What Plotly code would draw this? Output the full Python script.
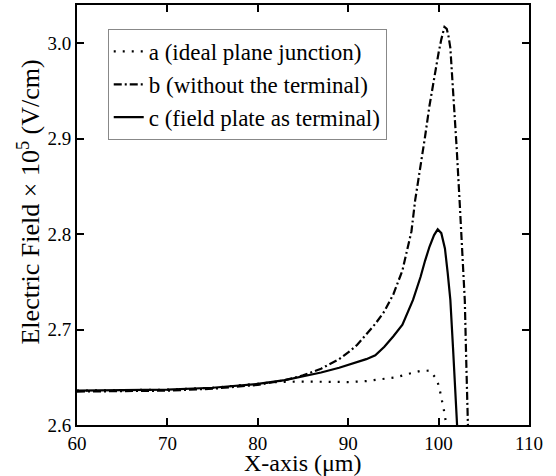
import plotly.graph_objects as go

# Curve a: ideal plane junction
xa = [60, 65, 70, 75, 80, 82, 85, 88, 90, 92, 94, 95.3, 96.6, 97.9, 99.0, 99.8, 100.1, 100.4, 100.6, 100.8, 101.0]
ya = [2.636, 2.6365, 2.637, 2.639, 2.643, 2.645, 2.6455, 2.645, 2.645, 2.646, 2.648, 2.650, 2.6534, 2.6565, 2.657, 2.648, 2.638, 2.626, 2.615, 2.6035, 2.595]

# Curve b: without the terminal
xb = [60, 65, 70, 75, 80, 83, 85, 87, 89, 90, 91, 92, 93, 94, 95, 96, 97, 97.4, 98, 98.5, 99, 99.5, 100, 100.3, 100.65,
      100.9, 101.1, 101.3, 101.6, 102.0, 102.35, 102.65, 102.9, 103.05, 103.2, 103.3]
yb = [2.635, 2.6355, 2.636, 2.638, 2.642, 2.647, 2.652, 2.659, 2.669, 2.676, 2.684, 2.695, 2.706, 2.719, 2.737, 2.762, 2.803, 2.835, 2.87, 2.902, 2.935, 2.965, 2.99, 3.004, 3.017,
      3.015, 3.007, 2.995, 2.952, 2.89, 2.83, 2.78, 2.73, 2.67, 2.6, 2.58]

# Curve c: field plate as terminal
xc = [60, 65, 70, 75, 80, 83, 85, 87, 89, 90, 91, 92, 93, 93.5, 94, 95, 96, 97.17, 98, 98.5, 99, 99.5, 99.9,
      100.3, 100.7, 101.0, 101.3, 101.6, 101.9, 102.1]
yc = [2.636, 2.6362, 2.637, 2.639, 2.643, 2.647, 2.651, 2.655, 2.66, 2.663, 2.666, 2.669, 2.673, 2.677, 2.682, 2.693, 2.705, 2.731, 2.755, 2.772, 2.787, 2.799, 2.805,
      2.801, 2.785, 2.76, 2.731, 2.68, 2.625, 2.59]

names = ["a (ideal plane junction)", "b (without the terminal)", "c (field plate as terminal)"]

xticks = [60, 70, 80, 90, 100, 110]
yticks = [2.6, 2.7, 2.8, 2.9, 3.0]
ytick_text = ["2.6", "2.7", "2.8", "2.9", "3.0"]

x_title = "X-axis (μm)"
y_title = "Electric Field × 10<sup>5</sup> (V/cm)"

FONT = "Times New Roman"

fig = go.Figure()
fig.add_trace(go.Scatter(x=xa, y=ya, mode="lines", name=names[0],
                         line=dict(color="black", width=2.2, dash="2px,7px")))
fig.add_trace(go.Scatter(x=xb, y=yb, mode="lines", name=names[1],
                         line=dict(color="black", width=2.2, dash="8px,3px,2px,3px")))
fig.add_trace(go.Scatter(x=xc, y=yc, mode="lines", name=names[2],
                         line=dict(color="black", width=2.2)))

common = dict(showline=True, linecolor="black", linewidth=2, mirror="ticks",
              ticks="inside", ticklen=7, tickwidth=2, tickcolor="black",
              showgrid=False, zeroline=False, automargin=False,
              tickfont=dict(family=FONT, size=19, color="black"))

fig.update_xaxes(range=[60, 110], tickvals=xticks, ticktext=[str(v) for v in xticks], **common)
fig.update_yaxes(range=[2.6, 3.04], tickvals=yticks, ticktext=ytick_text, **common)

fig.add_annotation(text=x_title, xref="paper", yref="paper", x=0.5, y=-0.126,
                   xanchor="center", yanchor="bottom", showarrow=False,
                   font=dict(family=FONT, size=24, color="black"))
fig.add_annotation(text=y_title, xref="paper", yref="paper", x=-0.105, y=0.531,
                   xanchor="center", yanchor="middle", textangle=-90, showarrow=False,
                   font=dict(family=FONT, size=26, color="black"))

fig.update_layout(
    width=556, height=476,
    margin=dict(l=77, r=27, t=5, b=51),
    paper_bgcolor="white", plot_bgcolor="white",
    legend=dict(x=0.068, y=0.943, xanchor="left", yanchor="top",
                bgcolor="white", bordercolor="#888888", borderwidth=1,
                font=dict(family=FONT, size=23, color="black"),
                tracegroupgap=0),
)

fig.write_html("out.html")
